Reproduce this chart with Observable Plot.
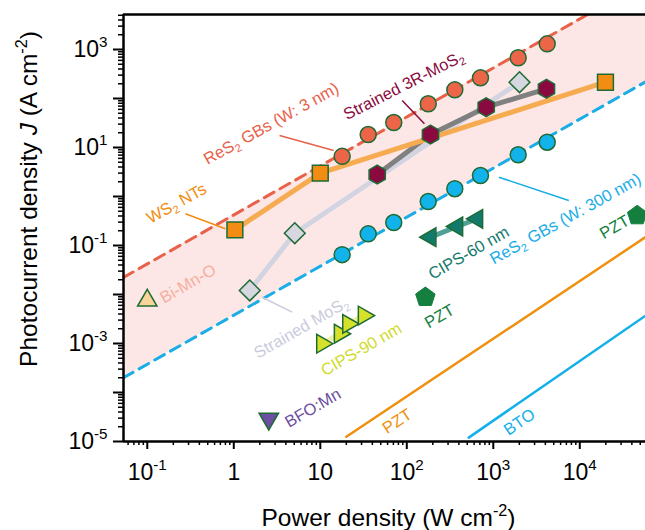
<!DOCTYPE html>
<html><head><meta charset="utf-8">
<script src="https://cdn.jsdelivr.net/npm/d3@7"></script>
<script src="https://cdn.jsdelivr.net/npm/@observablehq/plot@0.6"></script>
<style>html,body{margin:0;padding:0;background:#fff} svg{display:block}</style>
</head><body><div id="chart"></div>
<script>
// ---------- data ----------
const xDomain = [0.0531, 57500];   // power density, W cm^-2
const yDomain = [1e-5, 5180];      // photocurrent density, A cm^-2

// ReS2 grain boundaries (circles)
const resP = [17.9, 35.8, 70.7, 177, 359, 711, 1940, 4200];
const res3nmJ = [6.6, 18.4, 32.3, 78, 150, 264, 677, 1306];
const res300nmJ = [0.065, 0.173, 0.294, 0.79, 1.44, 2.68, 7.1, 12.8];
// WS2 NTs (squares)
const ws2P = [1.03, 10, 19800];
const ws2J = [0.209, 2.99, 215];
// Strained MoS2 (diamonds)
const mos2P = [1.53, 5.07, 2010];
const mos2J = [0.0121, 0.178, 215];
// Strained 3R-MoS2 (hexagons)
const mos3rP = [45.5, 188, 828, 4120];
const mos3rJ = [2.81, 18.4, 66.4, 158];
// CIPS-90 nm (right triangles)
const cips90P = [10.5, 16.8, 21, 31.8];
const cips90J = [9.9e-4, 1.58e-3, 2.52e-3, 3.72e-3];
// CIPS-60 nm (left triangles)
const cips60P = [188, 383, 652];
const cips60J = [0.148, 0.244, 0.351];
// single points
const bimnoP = [0.1], bimnoJ = [0.00755];
const bfoP = [2.54], bfoJ = [2.9e-5];
const pztP = [164, 46100], pztJ = [8.8e-3, 0.409];
// reference lines
const pztLineP = [20, 57500], pztLineJ = [1.25e-5, 0.148];
const btoLineP = [520, 57500], btoLineJ = [1.2e-5, 0.0037];
const guideP = [0.053, 57500];
const upperGuideJ = [0.0223, 24150];
const lowerGuideJ = [0.0002, 218.5];

// tick labels
const xMajor = [0.1, 1, 10, 100, 1000, 10000];
const xMajorLabels = ["10^{-1}", "1", "10", "10^{2}", "10^{3}", "10^{4}"];
const yMajor = [1e-5, 1e-4, 1e-3, 1e-2, 0.1, 1, 10, 100, 1000];
const yMajorLabels = ["10^{-5}", "", "10^{-3}", "", "10^{-1}", "", "10^{1}", "", "10^{3}"];

// annotations
const labelText = ["ReS_{2} GBs (W: 3 nm)", "Strained 3R-MoS_{2}", "WS_{2} NTs", "Bi-Mn-O",
  "Strained MoS_{2}", "CIPS-90 nm", "BFO:Mn", "PZT", "CIPS-60 nm", "ReS_{2} GBs (W: 300 nm)",
  "PZT", "PZT", "BTO"];
const labelP = [2.714, 92.3, 0.218, 0.296, 6.03, 29.8, 8.23, 239, 521, 6840, 25200, 77.4, 2010];
const labelJ = [30.5, 184, 0.719, 0.0165, 0.00207, 7.55e-4, 4.83e-5, 3.56e-3, 0.0703, 0.348, 0.236, 2.58e-5, 2.48e-5];
const labelColor = ["#E8624A", "#8A0A40", "#F28C13", "#F6AE9E", "#CACBDC", "#CFDB2A", "#6B4FA0",
  "#157F3F", "#137A6B", "#1AADE6", "#157F3F", "#F0900F", "#14B0EA"];
const labelAngle = [-29, -27, -29, -30, -30, -30, -30, -30, -30, -29, -30, -33, -34];

const leaderP1 = [3.38, 88.5, 0.276, 2.13, 1158];
const leaderJ1 = [17.6, 91, 0.444, 0.0088, 2.48];
const leaderP2 = [14.3, 160, 0.80, 4.73, 7460];
const leaderJ2 = [8.69, 30.5, 0.219, 0.00436, 0.828];
const leaderColor = ["#E8624A", "#8A0A40", "#F28C13", "#CACBDC", "#1AADE6"];

// ---------- helpers ----------
const pts = (P, J) => P.map((p, i) => ({P: p, J: J[i]}));
function polygon(n, rot, k) {
  return {draw(ctx, size) {
    const r = Math.sqrt(size / Math.PI) * k;
    for (let i = 0; i < n; i++) {
      const a = rot * Math.PI / 180 + 2 * Math.PI * i / n;
      const x = r * Math.sin(a), y = -r * Math.cos(a);
      if (i) ctx.lineTo(x, y); else ctx.moveTo(x, y);
    }
    ctx.closePath();
  }};
}
const symSquare = polygon(4, 45, 1.4);
const symDiamond = polygon(4, 0, 1.3);
const symHex = polygon(6, 0, 1.17);
const symPent = polygon(5, 0, 1.28);
const symUp = polygon(3, 0, 1.4);
const symDown = polygon(3, 180, 1.4);
const symRight = polygon(3, 90, 1.35);
const symLeft = polygon(3, -90, 1.35);

const edge = "#1E6B35";
const xLab = new Map(xMajor.map((v, i) => [v, xMajorLabels[i]]));
const yLab = new Map(yMajor.map((v, i) => [v, yMajorLabels[i]]));
const xMinor = [], yMinor = [];
for (let e = -2; e <= 4; e++) for (let m = 2; m <= 9; m++) { const v = m * Math.pow(10, e); if (v > xDomain[0] && v < xDomain[1]) xMinor.push(v); }
for (let e = -5; e <= 3; e++) for (let m = 2; m <= 9; m++) { const v = m * Math.pow(10, e); if (v > yDomain[0] && v < yDomain[1]) yMinor.push(v); }

const dotStyle = (fill, symbol) => ({x: "P", y: "J", r: 8, fill, stroke: edge, strokeWidth: 1.5, symbol});
const lineStyle = (stroke, w) => ({x: "P", y: "J", stroke, strokeWidth: w, strokeLinejoin: "round", strokeLinecap: "round"});

const chart = Plot.plot({
  width: 645, height: 530,
  marginLeft: 123, marginTop: 14, marginBottom: 89, marginRight: 0,
  style: {fontFamily: "'Liberation Sans', Arial, sans-serif", background: "white", color: "black"},
  x: {type: "log", domain: xDomain, label: null},
  y: {type: "log", domain: yDomain, label: null},
  marks: [
    // shaded band between the two guide lines
    Plot.areaY(guideP.map((p, i) => ({P: p, lo: lowerGuideJ[i], hi: upperGuideJ[i]})),
      {x: "P", y1: "lo", y2: "hi", fill: "#FCE7E6", clip: true}),
    Plot.line(pts(guideP, upperGuideJ), {x: "P", y: "J", stroke: "#E8624A", strokeWidth: 3, strokeDasharray: "11 7", clip: true}),
    Plot.line(pts(guideP, lowerGuideJ), {x: "P", y: "J", stroke: "#1AADE6", strokeWidth: 3, strokeDasharray: "11 7", clip: true}),
    Plot.line(pts(pztLineP, pztLineJ), {x: "P", y: "J", stroke: "#F0900F", strokeWidth: 2.5, clip: true}),
    Plot.line(pts(btoLineP, btoLineJ), {x: "P", y: "J", stroke: "#14B0EA", strokeWidth: 2.5, clip: true}),
    // connecting lines
    Plot.line(pts(mos2P, mos2J), lineStyle("#D3D4E2", 5)),
    Plot.line(pts(mos3rP, mos3rJ), lineStyle("#808080", 5)),
    Plot.line(pts(ws2P, ws2J), lineStyle("#F6AB50", 5)),
    Plot.line(pts(cips90P, cips90J), lineStyle("#EEF2A8", 5)),
    Plot.line(pts(cips60P, cips60J), lineStyle("#4FA193", 5)),
    // leader lines
    leaderColor.map((c, i) => Plot.link([i], {x1: () => leaderP1[i], y1: () => leaderJ1[i], x2: () => leaderP2[i], y2: () => leaderJ2[i], stroke: c, strokeWidth: 1.5})),
    // markers
    Plot.dot(pts(resP, res3nmJ), dotStyle("#EC6549", "circle")),
    Plot.dot(pts(resP, res300nmJ), dotStyle("#12B2EA", "circle")),
    Plot.dot(pts(ws2P, ws2J), dotStyle("#F28C13", symSquare)),
    Plot.dot(pts(mos2P, mos2J), dotStyle("#D6D7DF", symDiamond)),
    Plot.dot(pts(mos3rP, mos3rJ), dotStyle("#8A0A40", symHex)),
    Plot.dot(pts(cips90P, cips90J), dotStyle("#D5E12A", symRight)),
    Plot.dot(pts(cips60P, cips60J), dotStyle("#137A6B", symLeft)),
    Plot.dot(pts(bimnoP, bimnoJ), dotStyle("#F8D49A", symUp)),
    Plot.dot(pts(bfoP, bfoJ), dotStyle("#6B4FA0", symDown)),
    Plot.dot(pts(pztP, pztJ), {x: "P", y: "J", r: 8, fill: "#157F3F", stroke: "#157F3F", strokeWidth: 1, symbol: symPent}),
    // annotations
    labelText.map((t, i) => Plot.text([t], {x: () => labelP[i], y: () => labelJ[i], text: d => d,
      rotate: labelAngle[i], fill: labelColor[i], fontSize: 16.5, textAnchor: "middle", lineAnchor: "middle"})),
    // axes
    Plot.axisX({ticks: xMinor, anchor: "bottom", tickSize: 4, tickFormat: () => "", strokeWidth: 1.5, label: null}),
    Plot.axisX({ticks: xMajor, anchor: "bottom", tickSize: 8, tickPadding: 14, tickFormat: d => xLab.get(d), fontSize: 23, strokeWidth: 2, label: null}),
    Plot.axisY({ticks: yMinor, anchor: "left", tickSize: 5, tickFormat: () => "", strokeWidth: 1.5, label: null}),
    Plot.axisY({ticks: yMajor, anchor: "left", tickSize: 10, tickPadding: 6, tickFormat: d => yLab.get(d), fontSize: 23, strokeWidth: 2, label: null}),
    Plot.ruleY([yDomain[0]], {stroke: "black", strokeWidth: 2.5}),
    Plot.ruleY([yDomain[1]], {stroke: "black", strokeWidth: 2.5}),
    Plot.ruleX([xDomain[0]], {stroke: "black", strokeWidth: 2.5}),
    Plot.text(["Photocurrent density *J* (A cm^{-2})"], {frameAnchor: "left", dx: -94, dy: -29, rotate: -90,
      text: d => d, fontSize: 24.5, fill: "black", textAnchor: "middle", lineAnchor: "middle"}),
    Plot.text(["Power density (W cm^{-2})"], {frameAnchor: "bottom", dx: 4, dy: 77,
      text: d => d, fontSize: 24.5, fill: "black", textAnchor: "middle", lineAnchor: "middle"})
  ]
});
document.getElementById("chart").appendChild(chart);

// rich text: ^{sup}, _{sub}, *italic*
const NS = "http://www.w3.org/2000/svg";
chart.querySelectorAll("text").forEach(el => {
  const s = el.textContent;
  if (!/(\^\{|_\{|\*)/.test(s)) return;
  const re = /(\^\{[^}]*\}|_\{[^}]*\}|\*[^*]*\*)/g;
  const tokens = []; let last = 0, m;
  while ((m = re.exec(s))) {
    if (m.index > last) tokens.push({t: s.slice(last, m.index), k: "n"});
    const v = m[0];
    if (v[0] === "^") tokens.push({t: v.slice(2, -1), k: "sup"});
    else if (v[0] === "_") tokens.push({t: v.slice(2, -1), k: "sub"});
    else tokens.push({t: v.slice(1, -1), k: "it"});
    last = re.lastIndex;
  }
  if (last < s.length) tokens.push({t: s.slice(last), k: "n"});
  const fs = parseFloat(getComputedStyle(el).fontSize) || 16;
  while (el.firstChild) el.removeChild(el.firstChild);
  let cur = 0;
  for (const tk of tokens) {
    const sp = document.createElementNS(NS, "tspan");
    let shift = 0;
    if (tk.k === "sup") { shift = -0.42 * fs; sp.setAttribute("font-size", (0.66 * fs).toFixed(1)); }
    if (tk.k === "sub") { shift = 0.22 * fs; sp.setAttribute("font-size", (0.66 * fs).toFixed(1)); }
    if (tk.k === "it") sp.setAttribute("font-style", "italic");
    if (shift !== cur) { sp.setAttribute("dy", (shift - cur).toFixed(2)); cur = shift; }
    sp.textContent = tk.t;
    el.appendChild(sp);
  }
});
</script></body></html>
